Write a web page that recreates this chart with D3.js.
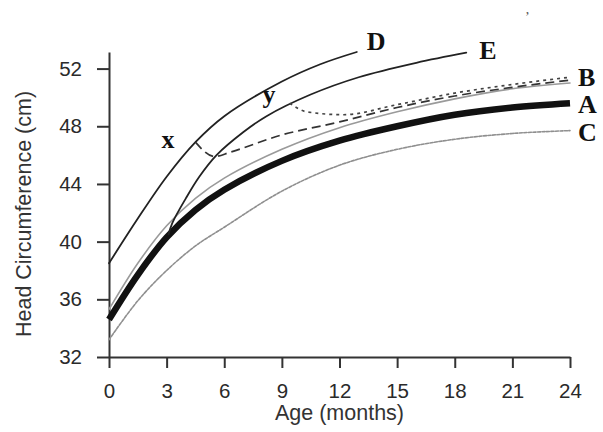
<!DOCTYPE html>
<html>
  <head>
    <title>Head Circumference</title>
    <style>
      body,
      html {
        margin: 0;
        padding: 0;
        background: #fff;
      }
      #svg {
        display: block;
      }
    </style>
  </head>
  <body>
    <svg id="svg" width="603" height="432"></svg>
    <script src="https://cdn.jsdelivr.net/npm/d3@7"></script>
    <script>
      // [age in months, head circumference in cm]
      const curveA = [[0, 34.6], [1.5, 37.7], [3, 40.3], [4.5, 42.2], [6, 43.6], [9, 45.6], [12, 47.0], [15, 48.0], [18, 48.8], [21, 49.3], [24, 49.6]];
      const curveB = [[0, 35.3], [1.5, 38.5], [3, 41.1], [4.5, 43.0], [6, 44.4], [9, 46.4], [12, 47.9], [15, 49.0], [18, 49.9], [21, 50.6], [24, 51.0]];
      const curveC = [[0, 33.2], [1.5, 35.9], [3, 38.0], [4.5, 39.7], [6, 41.0], [9, 43.5], [12, 45.3], [15, 46.4], [18, 47.1], [21, 47.5], [24, 47.7]];
      const curveD = [[0, 38.5], [1.5, 41.6], [3, 44.5], [4.5, 46.9], [6, 48.7], [9, 51.1], [11, 52.3], [12.9, 53.15]];
      const curveE = [[3.1, 40.5], [3.3, 41.3], [4, 43.0], [4.7, 44.5], [5.6, 46.0], [7, 47.6], [8.2, 48.7], [10.5, 50.2], [13, 51.4], [16, 52.4], [18.6, 53.1]];
      const pathX = [[4.5, 46.9], [5.5, 45.9], [6.3, 46.2], [9, 47.4], [12, 48.3], [15, 49.3], [18, 50.1], [21, 50.7], [24, 51.2]];
      const pathY = [[9.4, 49.6], [10.3, 49.0], [12.2, 48.8], [15, 49.5], [18, 50.3], [21, 50.9], [24, 51.4]];

      const ageTicks = [0, 3, 6, 9, 12, 15, 18, 21, 24];
      const cmTicks = [32, 36, 40, 44, 48, 52];

      const svg = d3.select('#svg');

      const xScale = d3.scaleLinear().domain([0, 24]).range([109, 570]);
      const yScale = d3.scaleLinear().domain([32, 53.15]).range([357, 52]);

      const smoothLine = d3
        .line()
        .x((d) => xScale(d[0]))
        .y((d) => yScale(d[1]))
        .curve(d3.curveCatmullRom.alpha(0.5));

      // the x / y traces have a sharp corner where they leave curve E
      const cornerLine = d3
        .line()
        .x((d) => xScale(d[0]))
        .y((d) => yScale(d[1]))
        .curve(d3.curveMonotoneX);

      // axes
      const xAxis = svg
        .append('g')
        .attr('transform', `translate(0,${yScale(32)})`)
        .call(d3.axisBottom(xScale).tickValues(ageTicks).tickSize(11).tickSizeOuter(0).tickPadding(15));

      const yAxis = svg
        .append('g')
        .attr('transform', `translate(${xScale(0)},0)`)
        .call(d3.axisLeft(yScale).tickValues(cmTicks).tickSize(12).tickSizeOuter(0).tickPadding(15));

      [xAxis, yAxis].forEach((ax) => {
        ax.selectAll('path, line').attr('stroke', '#333').attr('stroke-width', 2);
        ax.selectAll('text')
          .attr('fill', '#2a2a2a')
          .style('font-family', 'Liberation Sans, Arial, sans-serif')
          .style('font-size', '20.5px');
      });

      svg
        .append('text')
        .attr('transform', 'translate(31,214) rotate(-90)')
        .attr('text-anchor', 'middle')
        .attr('fill', '#333')
        .style('font-family', 'Liberation Sans, Arial, sans-serif')
        .style('font-size', '21.5px')
        .text('Head Circumference (cm)');

      svg
        .append('text')
        .attr('x', xScale(12))
        .attr('y', 420)
        .attr('text-anchor', 'middle')
        .attr('fill', '#333')
        .style('font-family', 'Liberation Sans, Arial, sans-serif')
        .style('font-size', '21.5px')
        .text('Age (months)');

      // curves
      const graph = svg.append('g').attr('fill', 'none').attr('stroke-linecap', 'round');

      graph.append('path').attr('d', smoothLine(curveC)).attr('stroke', '#8f8f8f').attr('stroke-width', 1.6).attr('stroke-dasharray', '3,1.5');
      graph.append('path').attr('d', smoothLine(curveB)).attr('stroke', '#9a9a9a').attr('stroke-width', 1.6);
      graph.append('path').attr('d', smoothLine(curveA)).attr('stroke', '#111').attr('stroke-width', 6.5).attr('stroke-linecap', 'butt');
      graph.append('path').attr('d', smoothLine(curveD)).attr('stroke', '#222').attr('stroke-width', 1.8);
      graph.append('path').attr('d', smoothLine(curveE)).attr('stroke', '#222').attr('stroke-width', 1.8);
      graph.append('path').attr('d', cornerLine(pathX)).attr('stroke', '#333').attr('stroke-width', 1.7).attr('stroke-dasharray', '9,5').attr('stroke-linecap', 'butt');
      graph.append('path').attr('d', cornerLine(pathY)).attr('stroke', '#444').attr('stroke-width', 1.7).attr('stroke-dasharray', '3,4').attr('stroke-linecap', 'butt');

      // letter labels, placed next to the curve they name
      const labels = [
        { t: 'D', p: curveD[curveD.length - 1], dx: 10, dy: -2 },
        { t: 'E', p: curveE[curveE.length - 1], dx: 13, dy: 6 },
        { t: 'B', p: curveB[curveB.length - 1], dx: 8, dy: 3 },
        { t: 'A', p: curveA[curveA.length - 1], dx: 8, dy: 10 },
        { t: 'C', p: curveC[curveC.length - 1], dx: 8, dy: 10 },
        { t: 'x', p: pathX[0], dx: -34, dy: 6 },
        { t: 'y', p: pathY[0], dx: -27, dy: 0 }
      ];

      svg
        .append('g')
        .selectAll('text')
        .data(labels)
        .enter()
        .append('text')
        .attr('x', (d) => xScale(d.p[0]) + d.dx)
        .attr('y', (d) => yScale(d.p[1]) + d.dy)
        .attr('fill', '#111')
        .style('font-family', 'Liberation Serif, Times New Roman, serif')
        .style('font-weight', 'bold')
        .style('font-size', '26px')
        .text((d) => d.t);

      svg
        .append('text')
        .attr('x', 525)
        .attr('y', 22)
        .attr('fill', '#555')
        .style('font-family', 'Liberation Serif, serif')
        .style('font-size', '14px')
        .text('’');
    </script>
  </body>
</html>
